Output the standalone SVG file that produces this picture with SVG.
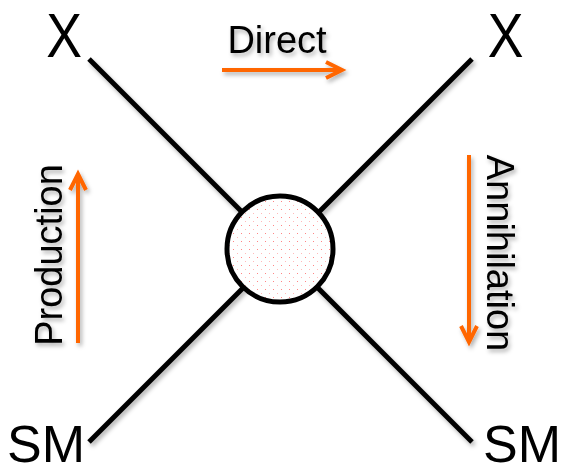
<svg xmlns="http://www.w3.org/2000/svg" width="561" height="472" viewBox="0 0 561 472">
  <style>
    .lbl { font-family: "Liberation Sans", Arial, sans-serif; fill: #000; }
    .big { font-size: 52px; }
    .mid { font-size: 38px; }
    .ln { stroke: #000; stroke-width: 5; fill: none; }
    .arr { stroke: #FF6600; stroke-width: 4; fill: none; stroke-linecap: butt; }
    .head { stroke: #FF6600; stroke-width: 4; fill: none; stroke-linejoin: miter; }
  </style>
  <defs>
    <filter id="sh" x="-10%" y="-10%" width="130%" height="130%">
      <feDropShadow dx="2" dy="3" stdDeviation="2" flood-color="#000" flood-opacity="0.3"/>
    </filter>
    <pattern id="dots" width="8" height="8" patternUnits="userSpaceOnUse">
      <rect width="8" height="8" fill="#fff"/>
      <rect x="1" y="1" width="1" height="1" fill="#f33" opacity="0.6"/>
      <rect x="5" y="5" width="1" height="1" fill="#f66" opacity="0.45"/>
    </pattern>
  </defs>

  <g id="connectors" filter="url(#sh)">
    <line class="ln" x1="89" y1="59" x2="472" y2="442"/>
    <line class="ln" x1="472" y1="59" x2="89" y2="442"/>
  </g>

  <g id="vertex">
    <circle cx="280" cy="249" r="53" fill="url(#dots)" stroke="#000" stroke-width="5"/>
  </g>

  <g id="x-left">
    <text class="lbl" font-size="63" text-anchor="middle" transform="translate(64,57) scale(0.85,1)">X</text>
  </g>
  <g id="x-right">
    <text class="lbl" font-size="63" text-anchor="middle" transform="translate(505.5,57) scale(0.85,1)">X</text>
  </g>
  <g id="sm-left">
    <text class="lbl big" x="7" y="462">SM</text>
  </g>
  <g id="sm-right">
    <text class="lbl big" x="483" y="462">SM</text>
  </g>

  <g id="direct" filter="url(#sh)">
    <text class="lbl mid" x="277" y="53" text-anchor="middle">Direct</text>
    <line class="arr" x1="222" y1="70" x2="341" y2="70"/>
    <polyline class="head" points="326,62 342,70 326,78"/>
  </g>

  <g id="production" filter="url(#sh)">
    <text class="lbl mid" text-anchor="middle" transform="translate(62,255) rotate(-90)">Production</text>
    <line class="arr" x1="78" y1="343" x2="78" y2="175"/>
    <polyline class="head" points="70,190 78,174 86,190"/>
  </g>

  <g id="annihilation" filter="url(#sh)">
    <text class="lbl mid" text-anchor="middle" transform="translate(487,253) rotate(90)">Annihilation</text>
    <line class="arr" x1="469" y1="155" x2="469" y2="341"/>
    <polyline class="head" points="461,326 469,342 477,326"/>
  </g>
</svg>
